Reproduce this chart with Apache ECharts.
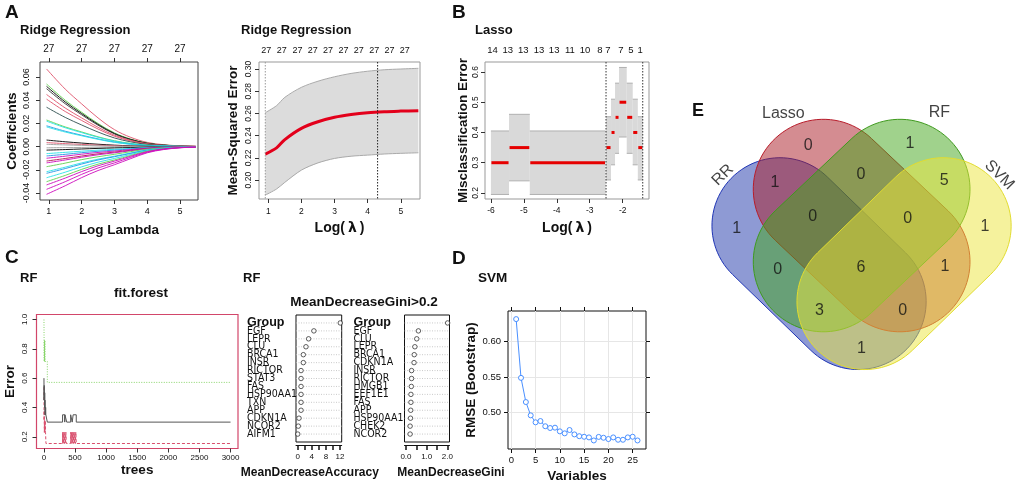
<!DOCTYPE html>
<html>
<head>
<meta charset="utf-8">
<script src="https://cdn.jsdelivr.net/npm/echarts@6.0.0/dist/echarts.min.js"></script>
<style>
html,body{margin:0;padding:0;background:#ffffff;}
#chart{width:1020px;height:488px;}
</style>
</head>
<body>
<div id="chart"></div>
<script>
const FONT = "'Liberation Sans', Arial, Helvetica, sans-serif";
const NARROW = "'Liberation Sans Narrow', 'Arial Narrow', 'DejaVu Sans Condensed', 'Liberation Sans', sans-serif";
const INK = '#111111';

// ===== Panel A (left): ridge coefficient paths =====
const ridgeCoefX = [0.93, 1.5, 2, 2.5, 3, 3.5, 4, 4.5, 5, 5.48];
const ridgeCoefPaths = [
 [0.067, 0.0496, 0.0369, 0.0248, 0.0147, 0.008, 0.0037, 0.0017, 0.0007, 0.0003],
 [0.054, 0.040, 0.0297, 0.020, 0.0119, 0.0065, 0.003, 0.0014, 0.0005, 0.0002],
 [0.052, 0.0385, 0.0286, 0.0192, 0.0114, 0.0062, 0.0029, 0.0013, 0.0005, 0.0002],
 [0.050, 0.037, 0.0275, 0.0185, 0.011, 0.006, 0.0028, 0.0013, 0.0005, 0.0002],
 [0.045, 0.0333, 0.0248, 0.0167, 0.0099, 0.0054, 0.0025, 0.0011, 0.0005, 0.0002],
 [0.041, 0.0303, 0.0226, 0.0152, 0.009, 0.0049, 0.0023, 0.001, 0.0004, 0.0002],
 [0.034, 0.0252, 0.0187, 0.0126, 0.0075, 0.0041, 0.0019, 0.0009, 0.0003, 0.0001],
 [0.023, 0.017, 0.0127, 0.0085, 0.0051, 0.0028, 0.0013, 0.0006, 0.0002, 0.0001],
 [0.022, 0.0163, 0.0121, 0.0081, 0.0048, 0.0026, 0.0012, 0.0006, 0.0002, 0.0001],
 [0.018, 0.0133, 0.0099, 0.0067, 0.004, 0.0022, 0.001, 0.0005, 0.0002, 0.0001],
 [0.017, 0.0126, 0.0094, 0.0063, 0.0037, 0.002, 0.0009, 0.0004, 0.0002, 0.0001],
 [0.0057, 0.0042, 0.0031, 0.0021, 0.0013, 0.0007, 0.0003, 0.0001, 0.0001, 0],
 [0.0035, 0.0026, 0.0019, 0.0013, 0.0008, 0.0004, 0.0002, 0.0001, 0, 0],
 [0.002, 0.0015, 0.0011, 0.0007, 0.0004, 0.0002, 0.0001, 0, 0, 0],
 [-0.001, -0.0008, -0.0007, -0.0005, -0.0004, -0.0003, -0.0001, -0.0001, 0, 0],
 [-0.003, -0.0025, -0.002, -0.0015, -0.0011, -0.0008, -0.0004, -0.0002, -0.0001, 0],
 [-0.006, -0.0049, -0.0039, -0.003, -0.0023, -0.0015, -0.0008, -0.0004, -0.0002, -0.0001],
 [-0.008, -0.0066, -0.0052, -0.004, -0.003, -0.002, -0.001, -0.0005, -0.0002, -0.0001],
 [-0.010, -0.0082, -0.0065, -0.005, -0.0038, -0.0025, -0.0013, -0.0006, -0.0003, -0.0001],
 [-0.0124, -0.0102, -0.0081, -0.0062, -0.0047, -0.0031, -0.0016, -0.0007, -0.0003, -0.0001],
 [-0.014, -0.0115, -0.0091, -0.007, -0.0053, -0.0035, -0.0018, -0.0008, -0.0004, -0.0001],
 [-0.0173, -0.0142, -0.0112, -0.0087, -0.0066, -0.0043, -0.0022, -0.001, -0.0004, -0.0002],
 [-0.0216, -0.0177, -0.014, -0.0108, -0.0082, -0.0054, -0.0028, -0.0013, -0.0005, -0.0002],
 [-0.023, -0.0189, -0.015, -0.0115, -0.0087, -0.0058, -0.003, -0.0014, -0.0006, -0.0002],
 [-0.0268, -0.022, -0.0174, -0.0134, -0.0102, -0.0067, -0.0035, -0.0016, -0.0007, -0.0003],
 [-0.0302, -0.0248, -0.0196, -0.0151, -0.0115, -0.0076, -0.0039, -0.0018, -0.0008, -0.0003],
 [-0.033, -0.0271, -0.0215, -0.0165, -0.0125, -0.0083, -0.0043, -0.002, -0.0008, -0.0003],
 [-0.0368, -0.0302, -0.0239, -0.0184, -0.014, -0.0092, -0.0048, -0.0022, -0.0009, -0.0004],
 [-0.0411, -0.0337, -0.0267, -0.0206, -0.0156, -0.0103, -0.0053, -0.0025, -0.001, -0.0004]
];
const ridgeCoefColors = ['#DF536B','#61D04F','#000000','#333333','#DF536B','#DF536B','#2f4f4f','#61D04F','#28E2E5','#2297E6','#28E2E5','#000000','#DF536B','#9E9E9E',
  '#9E9E9E','#000000','#28E2E5','#2297E6','#CD0BBC','#b0174e','#CD0BBC','#61D04F','#28E2E5','#2297E6','#28E2E5','#61D04F','#CD0BBC','#CD0BBC','#CD0BBC'];
const ridgeCoefTicksX = [1, 2, 3, 4, 5];
const ridgeCoefTicksY = [-0.04, -0.02, 0, 0.02, 0.04, 0.06];
const ridgeCoefTopAt = [1, 2, 3, 4, 5];
const ridgeCoefTopLabels = ['27', '27', '27', '27', '27'];

// ===== Panel A (right): cross-validated ridge =====
const cvRidgeX   = [0.91, 1.25, 1.5, 2, 2.5, 3, 3.5, 4, 4.5, 5, 5.53];
const cvRidgeMse = [0.2234, 0.229, 0.2365, 0.2466, 0.2525, 0.2565, 0.259, 0.2607, 0.2616, 0.2621, 0.2625];
const cvRidgeUp  = [0.2607, 0.267, 0.2745, 0.2835, 0.289, 0.293, 0.296, 0.298, 0.2993, 0.3, 0.3006];
const cvRidgeLo  = [0.1865, 0.192, 0.198, 0.209, 0.2155, 0.2195, 0.2215, 0.2225, 0.2235, 0.2241, 0.2246];
const cvRidgeTicksX = [1, 2, 3, 4, 5];
const cvRidgeTicksY = [0.2, 0.22, 0.24, 0.26, 0.28, 0.3];
const cvRidgeTopAt = [0.94, 1.41, 1.88, 2.34, 2.8, 3.27, 3.73, 4.2, 4.66, 5.12];
const cvRidgeTopLabels = ['27','27','27','27','27','27','27','27','27','27'];
const cvRidgeLambda = [0.91, 4.3];

// ===== Panel B: lasso CV misclassification =====
const lassoX0  = [-6.0, -5.45, -4.82, -2.505, -2.353, -2.231, -2.11, -1.876, -1.694, -1.54];
const lassoX1  = [-5.45, -4.82, -2.52, -2.353, -2.231, -2.11, -1.876, -1.694, -1.54, -1.39];
const lassoCvm = [0.30, 0.35, 0.30, 0.35, 0.40, 0.45, 0.50, 0.45, 0.40, 0.35];
const lassoLo  = [0.195, 0.24, 0.195, 0.243, 0.293, 0.331, 0.385, 0.331, 0.293, 0.243];
const lassoHi  = [0.405, 0.46, 0.405, 0.452, 0.51, 0.563, 0.615, 0.563, 0.51, 0.452];
const lassoTicksX = [-6, -5, -4, -3, -2];
const lassoTicksY = [0.2, 0.3, 0.4, 0.5, 0.6];
const lassoTopAt = [-5.95, -5.49, -5.02, -4.54, -4.08, -3.6, -3.14, -2.69, -2.45, -2.05, -1.75, -1.47];
const lassoTopLabels = ['14','13','13','13','13','11','10','8','7','7','5','1'];
const lassoLambda = [-2.505, -1.39];

// ===== Panel C (left): random forest error vs trees =====
const rfTicksX = [0, 500, 1000, 1500, 2000, 2500, 3000];
const rfTicksY = [0.2, 0.4, 0.6, 0.8, 1.0];
const rfOob = [[1,0.60],[3,0.45],[5,0.55],[7,0.45],[9,0.50],[11,0.40],[13,0.50],[15,0.40],[17,0.45],[19,0.35],[21,0.40],[24,0.35],[28,0.40],[31,0.35],[55,0.30],
  [300,0.35],[335,0.30],[338,0.35],[367,0.30],[430,0.35],[455,0.30],[470,0.35],[520,0.30],[3000,0.30]];
const rfClass1 = [[1,0.538],[3,0.31],[5,0.38],[7,0.23],[9,0.31],[11,0.23],[13,0.31],[16,0.23],[22,0.31],[26,0.23],[33,0.154],
  [300,0.231],[305,0.154],[312,0.231],[318,0.154],[326,0.231],[332,0.154],[340,0.231],[346,0.154],[354,0.231],[360,0.154],
  [430,0.231],[436,0.154],[444,0.231],[450,0.154],[458,0.231],[464,0.154],[472,0.231],[478,0.154],[486,0.231],[492,0.154],[500,0.231],[506,0.154],[514,0.231],[520,0.154],[3000,0.154]];
const rfClass2 = [[1,1.0],[3,0.857],[5,0.714],[7,0.857],[9,0.714],[11,0.857],[13,0.714],[15,0.857],[17,0.714],[55,0.571],[3000,0.571]];

// ===== Panel C (middle): variable importance dot charts =====
const mdaNames  = ['Group','EGF','LEPR','CLU','BRCA1','INSR','RICTOR','STAT3','FAS','HSP90AA1','TXN','APP','CDKN1A','NCOR2','AIFM1'];
const mdaValues = [12.1, 4.6, 3.1, 2.35, 1.6, 1.6, 0.95, 0.95, 0.95, 0.95, 0.95, 0.95, 0.37, 0.18, 0.02];
const mdgNames  = ['Group','EGF','CLU','LEPR','BRCA1','CDKN1A','INSR','RICTOR','HMGB1','EEF1E1','FAS','APP','HSP90AA1','CHEK2','NCOR2'];
const mdgValues = [2.01, 0.60, 0.52, 0.43, 0.40, 0.39, 0.27, 0.27, 0.26, 0.24, 0.24, 0.23, 0.22, 0.20, 0.20];
const mdaTicks = [0, 2, 4, 6, 8, 10, 12];
const mdaLabels = [0, 4, 8, 12];
const mdgTicks = [0, 0.5, 1, 1.5, 2];
const mdgLabels = [0, 1, 2];

// ===== Panel D: SVM-RFE =====
const svmVars = [1,2,3,4,5,6,7,8,9,10,11,12,13,14,15,16,17,18,19,20,21,22,23,24,25,26];
const svmRmse = [0.6316, 0.549, 0.515, 0.4963, 0.4865, 0.4883, 0.481, 0.4785, 0.479, 0.4738, 0.471, 0.4757, 0.4695,
                 0.467, 0.4662, 0.4653, 0.461, 0.466, 0.4648, 0.463, 0.4653, 0.462, 0.462, 0.4653, 0.4662, 0.461];
const svmTicksX = [0, 5, 10, 15, 20, 25];
const svmTicksY = [0.5, 0.55, 0.6];

// ===== Panel E: Venn diagram =====
const vennSetNames = ['RR', 'Lasso', 'RF', 'SVM'];
const vennCounts = [0, 1, 1, 0, 5, 1, 0, 0, 1, 0, 6, 1, 3, 0, 1];
// diagram layout (0-100 diagram units)
const vennShapes = [[29.4,45.8,52.4,68.1,20],[42.15,35.1,64.7,56.4,20.6],[64.7,35.1,42.15,56.4,20.6],[77.4,45.8,54.4,68.1,20]];
const vennFill = ['rgba(29,53,169,0.5)','rgba(170,25,35,0.5)','rgba(65,165,25,0.5)','rgba(235,230,60,0.5)'];
const vennStroke = ['#1f35b5','#b81c2a','#3f9a1e','#e2dc30'];
const vennCountPos = [[37.7,22.1],[67.6,21.6],[27.9,33.1],[53.2,30.7],[77.7,32.4],[16.7,46.6],[39.0,43.1],[67.0,43.6],[89.7,46.1],
                      [28.7,58.6],[53.2,58.0],[77.9,57.9],[41.0,70.8],[65.5,70.8],[53.4,81.9]];
const vennLabelPos = [[12.6,30.9],[30.4,12.9],[76.3,12.4],[93.9,30.9]];
const vennLabelRot = [45, 0, 0, -45];

// ---------------------------------------------------------------
function merge(a, b) {
  for (const k in b) {
    const v = b[k];
    if (v && typeof v === 'object' && !Array.isArray(v) && a[k] && typeof a[k] === 'object' && !Array.isArray(a[k])) merge(a[k], v);
    else a[k] = v;
  }
  return a;
}
const NAME = {fontSize: 13.5, fontWeight: 'bold', color: INK, fontFamily: FONT};
const LAMBDA_NAME = '{b|Log(}{l|λ}{b|)}';
const LAMBDA_RICH = {b: {fontSize: 14, fontWeight: 'bold', color: INK, fontFamily: FONT},
                     l: {fontSize: 14, color: INK, fontFamily: "'DejaVu Sans', sans-serif", padding: [0, 3, 0, 3]}};
const pick = (at, labels) => v => { const i = at.findIndex(a => Math.abs(a - v) < 1e-9); return i < 0 ? '' : labels[i]; };

function valAxis(gridIndex, min, max, tickVals, labelVals, extra) {
  const base = {
    type: 'value', gridIndex: gridIndex, min: min, max: max,
    axisLine: {show: false, onZero: false},
    axisTick: {show: true, inside: false, length: 4, customValues: tickVals, lineStyle: {color: '#333', width: 1}},
    axisLabel: {show: labelVals !== null, customValues: labelVals || tickVals, margin: 7, fontSize: 9, color: INK, fontFamily: FONT,
                showMinLabel: true, showMaxLabel: true, hideOverlap: false, formatter: v => String(v)},
    splitLine: {show: false},
    nameLocation: 'middle', nameTextStyle: Object.assign({}, NAME)
  };
  return merge(base, extra || {});
}
function vlineSeries(xi, yi, xs, yRef, styles) {
  return {type: 'custom', xAxisIndex: xi, yAxisIndex: yi, silent: true, z: 6, clip: false,
    data: xs.map(x => [x, yRef]),
    renderItem: (params, api) => {
      const cs = params.coordSys; const p = api.coord([api.value(0), api.value(1)]);
      return {type: 'line', shape: {x1: p[0], y1: cs.y, x2: p[0], y2: cs.y + cs.height},
              style: Object.assign({stroke: '#222', lineWidth: 1, lineDash: [1.5, 1.5]}, styles[params.dataIndex] || {})};
    }};
}
function hlineSeries(xi, yi, names) {
  return {type: 'custom', xAxisIndex: xi, yAxisIndex: yi, silent: true, z: 1, clip: false,
    data: names.map((n, i) => [0, i + 1]),
    renderItem: (params, api) => {
      const cs = params.coordSys; const p = api.coord([api.value(0), api.value(1)]);
      return {type: 'line', shape: {x1: cs.x, y1: p[1], x2: cs.x + cs.width, y2: p[1]},
              style: {stroke: '#bdbdbd', lineWidth: 0.8, lineDash: [1, 1.5]}};
    }};
}
// category axis with one empty padding slot above and below the rows
function dotYAxis(gridIndex, names, margin) {
  const cats = ['pad-top'].concat(names).concat(['pad-bottom']);
  return {type: 'category', gridIndex: gridIndex, data: cats, inverse: true, boundaryGap: false,
    axisLine: {show: false, onZero: false}, axisTick: {show: false}, splitLine: {show: false},
    axisLabel: {interval: 0, align: 'left', margin: margin, fontSize: 10.5, fontFamily: NARROW, color: INK,
      formatter: (v, i) => (i === 0 || i === cats.length - 1) ? '' : (i === 1 ? '{g|' + v + '}' : v),
      rich: {g: {fontSize: 12.5, fontWeight: 'bold', fontFamily: FONT, color: INK}}}};
}

const series = [];
// A left
ridgeCoefPaths.forEach((p, i) => series.push({
  type: 'line', xAxisIndex: 0, yAxisIndex: 0, data: p.map((v, j) => [ridgeCoefX[j], v]),
  smooth: 0.35, symbol: 'none', silent: true, z: 2,
  lineStyle: {width: 1, color: ridgeCoefColors[i], opacity: 0.9}
}));
// A right
series.push({type: 'custom', xAxisIndex: 2, yAxisIndex: 1, silent: true, z: 1,
  data: [[cvRidgeX[0], cvRidgeLo[0]]],
  renderItem: (params, api) => {
    const pts = [];
    cvRidgeX.forEach((x, i) => pts.push(api.coord([x, cvRidgeUp[i]])));
    for (let i = cvRidgeX.length - 1; i >= 0; i--) pts.push(api.coord([cvRidgeX[i], cvRidgeLo[i]]));
    return {type: 'polygon', shape: {points: pts}, style: {fill: '#dcdcdc'}};
  }});
series.push({type: 'line', xAxisIndex: 2, yAxisIndex: 1, data: cvRidgeX.map((x, i) => [x, cvRidgeUp[i]]), smooth: 0.3, symbol: 'none', silent: true, z: 2, lineStyle: {color: '#aaaaaa', width: 1}});
series.push({type: 'line', xAxisIndex: 2, yAxisIndex: 1, data: cvRidgeX.map((x, i) => [x, cvRidgeLo[i]]), smooth: 0.3, symbol: 'none', silent: true, z: 2, lineStyle: {color: '#aaaaaa', width: 1}});
series.push({type: 'line', xAxisIndex: 2, yAxisIndex: 1, data: cvRidgeX.map((x, i) => [x, cvRidgeMse[i]]), smooth: 0.3, symbol: 'none', silent: true, z: 4, lineStyle: {color: '#e3001b', width: 3}});
series.push(vlineSeries(2, 1, cvRidgeLambda, 0.25, [{stroke: '#9a9a9a'}, {stroke: '#222'}]));
// B
const lassoSegs = lassoX0.map((x0, i) => [x0, lassoX1[i], lassoLo[i], lassoHi[i], lassoCvm[i]]);
series.push({type: 'custom', xAxisIndex: 4, yAxisIndex: 2, silent: true, z: 1, data: lassoSegs,
  renderItem: (params, api) => {
    const x0 = api.value(0), x1 = api.value(1), lo = api.value(2), hi = api.value(3);
    const a = api.coord([x0, hi]), b = api.coord([x1, lo]);
    return {type: 'group', children: [
      {type: 'rect', shape: {x: a[0], y: a[1], width: b[0] - a[0], height: b[1] - a[1]}, style: {fill: '#d9d9d9'}},
      {type: 'line', shape: {x1: a[0], y1: a[1], x2: b[0], y2: a[1]}, style: {stroke: '#b0b0b0', lineWidth: 1}},
      {type: 'line', shape: {x1: a[0], y1: b[1], x2: b[0], y2: b[1]}, style: {stroke: '#b0b0b0', lineWidth: 1}}
    ]};
  }});
series.push({type: 'custom', xAxisIndex: 4, yAxisIndex: 2, silent: true, z: 3, data: lassoSegs,
  renderItem: (params, api) => {
    const a = api.coord([api.value(0), api.value(4)]), b = api.coord([api.value(1), api.value(4)]);
    return {type: 'line', shape: {x1: a[0] + 0.5, y1: a[1], x2: b[0] - 0.5, y2: a[1]}, style: {stroke: '#e60000', lineWidth: 3}};
  }});
series.push(vlineSeries(4, 2, lassoLambda, 0.3, [{stroke: '#333'}, {stroke: '#333'}]));
// C left
series.push({type: 'line', xAxisIndex: 6, yAxisIndex: 3, data: rfClass2, step: 'end', symbol: 'none', silent: true, z: 2, lineStyle: {color: '#86d468', width: 1, type: [1, 1.5]}});
series.push({type: 'line', xAxisIndex: 6, yAxisIndex: 3, data: rfClass1, step: 'end', symbol: 'none', silent: true, z: 3, lineStyle: {color: '#d9506e', width: 1, type: [3, 2]}});
series.push({type: 'line', xAxisIndex: 6, yAxisIndex: 3, data: rfOob, step: 'end', symbol: 'none', silent: true, z: 4, lineStyle: {color: '#555555', width: 1}});
// C middle
series.push(hlineSeries(7, 4, mdaNames));
series.push({type: 'scatter', xAxisIndex: 7, yAxisIndex: 4, data: mdaValues.map((v, i) => [v, i + 1]), symbol: 'circle', symbolSize: 4.5, silent: true, z: 3,
  itemStyle: {color: '#ffffff', borderColor: '#222', borderWidth: 0.9}});
series.push(hlineSeries(8, 5, mdgNames));
series.push({type: 'scatter', xAxisIndex: 8, yAxisIndex: 5, data: mdgValues.map((v, i) => [v, i + 1]), symbol: 'circle', symbolSize: 4.5, silent: true, z: 3,
  itemStyle: {color: '#ffffff', borderColor: '#222', borderWidth: 0.9}});
// D
series.push({type: 'line', xAxisIndex: 9, yAxisIndex: 6, data: svmVars.map((x, i) => [x, svmRmse[i]]), symbol: 'circle', symbolSize: 5, showSymbol: true, silent: true, z: 3,
  lineStyle: {color: '#4a90ff', width: 1}, itemStyle: {color: '#ffffff', borderColor: '#4a90ff', borderWidth: 1}});
// E
series.push({type: 'custom', xAxisIndex: 11, yAxisIndex: 8, silent: true, z: 2, data: vennShapes,
  renderItem: (params, api) => {
    const i = params.dataIndex;
    const c1 = api.coord([api.value(0), api.value(1)]), c2 = api.coord([api.value(2), api.value(3)]);
    const r = api.size([api.value(4), 0])[0];
    const a = Math.atan2(c2[1] - c1[1], c2[0] - c1[0]);
    const pts = [];
    for (let k = 0; k <= 48; k++) { const t = a - Math.PI / 2 + Math.PI * k / 48; pts.push([c2[0] + r * Math.cos(t), c2[1] + r * Math.sin(t)]); }
    for (let k = 0; k <= 48; k++) { const t = a + Math.PI / 2 + Math.PI * k / 48; pts.push([c1[0] + r * Math.cos(t), c1[1] + r * Math.sin(t)]); }
    return {type: 'polygon', shape: {points: pts}, style: {fill: vennFill[i], stroke: vennStroke[i], lineWidth: 1}};
  }});
series.push({type: 'scatter', xAxisIndex: 11, yAxisIndex: 8, silent: true, z: 10, symbolSize: 1, itemStyle: {color: 'rgba(0,0,0,0)'},
  data: vennCountPos.map((p, i) => [p[0], p[1], vennCounts[i]]),
  label: {show: true, position: 'inside', formatter: p => String(p.value[2]), fontSize: 16, color: '#111', fontFamily: FONT}});
series.push({type: 'scatter', xAxisIndex: 11, yAxisIndex: 8, silent: true, z: 10, symbolSize: 1, itemStyle: {color: 'rgba(0,0,0,0)'},
  data: vennLabelPos.map((p, i) => ({name: vennSetNames[i], value: [p[0], p[1]], label: {rotate: vennLabelRot[i]}})),
  label: {show: true, position: 'inside', formatter: '{b}', fontSize: 16, color: '#111', fontFamily: FONT}});

const T = (text, x, y, size, align) => ({type: 'text', x: x, y: y, silent: true,
  style: {text: text, fill: INK, font: 'bold ' + size + 'px ' + FONT, align: align || 'left', verticalAlign: 'middle', textAlign: align || 'left', textVerticalAlign: 'middle'}});

const option = {
  animation: false,
  backgroundColor: '#ffffff',
  textStyle: {fontFamily: FONT},
  grid: [
    {left: 40, top: 62, width: 158, height: 138, show: true, borderColor: '#444', borderWidth: 1, outerBoundsMode: 'none'},
    {left: 259, top: 62, width: 161, height: 137, show: true, borderColor: '#999', borderWidth: 1, outerBoundsMode: 'none'},
    {left: 485, top: 62, width: 164, height: 137, show: true, borderColor: '#999', borderWidth: 1, outerBoundsMode: 'none'},
    {left: 36.5, top: 314.5, width: 201.5, height: 134, show: true, borderColor: '#d2466a', borderWidth: 1.2, outerBoundsMode: 'none'},
    {left: 296, top: 315, width: 45.7, height: 127, show: true, borderColor: '#111', borderWidth: 1, outerBoundsMode: 'none'},
    {left: 404.5, top: 315, width: 45, height: 127, show: true, borderColor: '#111', borderWidth: 1, outerBoundsMode: 'none'},
    {left: 508, top: 311, width: 138, height: 138, show: true, borderColor: '#111', borderWidth: 1, outerBoundsMode: 'none'},
    {left: 680, top: 70, width: 340, height: 340, show: false, outerBoundsMode: 'none'}
  ],
  xAxis: [
    valAxis(0, 0.73, 5.55, ridgeCoefTicksX, ridgeCoefTicksX, {name: 'Log Lambda', nameGap: 23, axisLabel: {margin: 7}}),
    valAxis(0, 0.73, 5.55, ridgeCoefTopAt, ridgeCoefTopAt, {position: 'top', axisLabel: {margin: 8, fontSize: 10, formatter: pick(ridgeCoefTopAt, ridgeCoefTopLabels)}}),
    valAxis(1, 0.72, 5.58, cvRidgeTicksX, cvRidgeTicksX, {name: LAMBDA_NAME, nameGap: 22, nameTextStyle: {rich: LAMBDA_RICH}, axisLabel: {margin: 8, fontSize: 8.5}}),
    valAxis(1, 0.72, 5.58, cvRidgeTopAt, cvRidgeTopAt, {position: 'top', axisTick: {show: false}, axisLabel: {margin: 7, fontSize: 9, formatter: pick(cvRidgeTopAt, cvRidgeTopLabels)}}),
    valAxis(2, -6.18, -1.2, lassoTicksX, lassoTicksX, {name: LAMBDA_NAME, nameGap: 22, nameTextStyle: {rich: LAMBDA_RICH}, axisLabel: {margin: 7, fontSize: 8.5}}),
    valAxis(2, -6.18, -1.2, lassoTopAt, lassoTopAt, {position: 'top', axisTick: {show: false}, axisLabel: {margin: 7, fontSize: 9.5, formatter: pick(lassoTopAt, lassoTopLabels)}}),
    valAxis(3, -119, 3120, rfTicksX, rfTicksX, {name: 'trees', nameGap: 15, axisLabel: {margin: 5, fontSize: 8}}),
    valAxis(4, -0.48, 12.5, mdaTicks, mdaLabels, {offset: 3, axisLine: {show: true, lineStyle: {color: '#111', width: 1}}, axisTick: {length: 5, lineStyle: {width: 1.5, color: '#111'}},
      name: 'MeanDecreaseAccuracy', nameGap: 22, nameTextStyle: {fontSize: 12, padding: [0, 18, 0, 0]}, axisLabel: {margin: 8, fontSize: 8}}),
    valAxis(5, -0.07, 2.1, mdgTicks, mdgLabels, {offset: 3, axisLine: {show: true, lineStyle: {color: '#111', width: 1}}, axisTick: {length: 5, lineStyle: {width: 1.5, color: '#111'}},
      name: 'MeanDecreaseGini', nameGap: 22, nameTextStyle: {fontSize: 12, padding: [0, 0, 0, 48]}, axisLabel: {margin: 8, fontSize: 8, formatter: v => v.toFixed(1)}}),
    valAxis(6, -0.68, 27.75, svmTicksX, svmTicksX, {name: 'Variables', nameGap: 20, axisTick: {lineStyle: {color: '#111'}},
      axisLabel: {margin: 6.5, fontSize: 9.5}, splitLine: {show: true, lineStyle: {color: '#e6e6e6', width: 1}}}),
    valAxis(6, -0.68, 27.75, svmTicksX, null, {position: 'top', axisTick: {lineStyle: {color: '#111'}}}),
    {type: 'value', gridIndex: 7, min: 0, max: 100, show: false}
  ],
  yAxis: [
    valAxis(0, -0.046, 0.073, ridgeCoefTicksY, ridgeCoefTicksY, {name: 'Coefficients', nameGap: 21, nameRotate: 90, axisLabel: {rotate: 90, margin: 9, formatter: v => v.toFixed(2)}}),
    valAxis(1, 0.183, 0.3063, cvRidgeTicksY, cvRidgeTicksY, {name: 'Mean-Squared Error', nameGap: 19, nameRotate: 90, axisLabel: {rotate: 90, margin: 6, fontSize: 8.5, formatter: v => v.toFixed(2)}}),
    valAxis(2, 0.18, 0.633, lassoTicksY, lassoTicksY, {name: 'Misclassification Error', nameGap: 14, nameRotate: 90, axisLabel: {rotate: 90, margin: 5, fontSize: 8.5, formatter: v => v.toFixed(1)}}),
    valAxis(3, 0.12, 1.034, rfTicksY, rfTicksY, {name: 'Error', nameGap: 19, nameRotate: 90, axisLabel: {rotate: 90, margin: 8, fontSize: 8, formatter: v => v.toFixed(1)}}),
    dotYAxis(4, mdaNames, 49),
    dotYAxis(5, mdgNames, 51),
    valAxis(6, 0.449, 0.643, svmTicksY, svmTicksY, {name: 'RMSE (Bootstrap)', nameGap: 28, nameRotate: 90, splitNumber: 4, axisTick: {lineStyle: {color: '#111'}},
      axisLabel: {margin: 7, fontSize: 9.5, formatter: v => v.toFixed(2)}, splitLine: {show: true, lineStyle: {color: '#e6e6e6', width: 1}}}),
    valAxis(6, 0.449, 0.643, svmTicksY, null, {position: 'right', axisTick: {lineStyle: {color: '#111'}}}),
    {type: 'value', gridIndex: 7, min: 0, max: 100, inverse: true, show: false}
  ],
  series: series,
  graphic: [
    T('A', 5, 13, 19), T('Ridge Regression', 20, 30, 13), T('Ridge Regression', 241, 30, 13),
    T('B', 452, 13, 19), T('Lasso', 475, 30, 13),
    T('C', 5, 258, 19), T('RF', 20, 278, 13), T('fit.forest', 141, 293, 13.5, 'center'),
    T('RF', 243, 278, 13), T('MeanDecreaseGini>0.2', 364, 302, 13.5, 'center'),
    T('D', 452, 259, 19), T('SVM', 478, 278, 13.5), T('E', 692, 111, 18)
  ]
};
const chart = echarts.init(document.getElementById('chart'), null, {renderer: 'canvas'});
chart.setOption(option);
</script>
</body>
</html>
